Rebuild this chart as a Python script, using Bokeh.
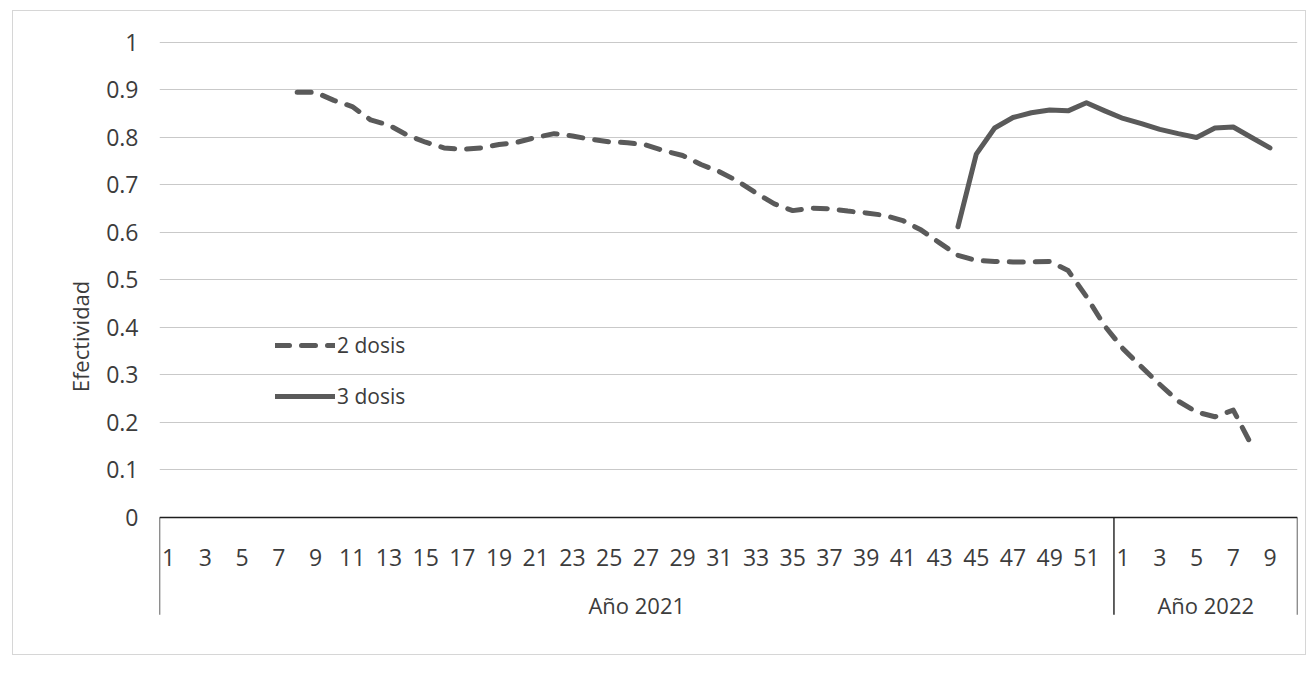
from bokeh.plotting import figure
from bokeh.models import (Range1d, FixedTicker, NumeralTickFormatter,
                          Legend, LegendItem, LinearAxis)
from bokeh.embed import file_html
from bokeh.resources import INLINE

# ---- data -------------------------------------------------------------
years = ["Año 2021", "Año 2022"]
weeks_2021 = list(range(1, 53))
weeks_2022 = list(range(1, 11))

# effectiveness after two doses, from week 8 of 2021 to week 8 of 2022
dos_dosis_first_week = 8
dos_dosis_2021 = [0.895, 0.895, 0.878, 0.865, 0.837, 0.826, 0.805, 0.790, 0.778, 0.775,
                  0.778, 0.785, 0.790, 0.800, 0.808, 0.803, 0.796, 0.791, 0.789, 0.784,
                  0.772, 0.762, 0.743, 0.728, 0.708, 0.683, 0.660, 0.646, 0.651, 0.650,
                  0.645, 0.641, 0.636, 0.625, 0.605, 0.578, 0.552, 0.541, 0.539, 0.538,
                  0.538, 0.539, 0.520, 0.465, 0.403]
dos_dosis_2022 = [0.355, 0.317, 0.280, 0.245, 0.222, 0.212, 0.226, 0.152]

# effectiveness after three doses, from week 44 of 2021 to week 9 of 2022
tres_dosis_first_week = 44
tres_dosis_2021 = [0.612, 0.765, 0.820, 0.842, 0.852, 0.858, 0.856, 0.873, 0.856]
tres_dosis_2022 = [0.840, 0.829, 0.817, 0.808, 0.800, 0.820, 0.822, 0.800, 0.778]

series_names = ["2 dosis", "3 dosis"]
y_ticks = [0, 0.1, 0.2, 0.3, 0.4, 0.5, 0.6, 0.7, 0.8, 0.9, 1]
y_title = "Efectividad"

# ---- one slot per week, years laid side by side -----------------------
year_weeks = [weeks_2021, weeks_2022]
year_start = [0, len(weeks_2021)]
n_slots = len(weeks_2021) + len(weeks_2022)


def slot(year_idx, week):
    # centre of the slot holding a given week of a given year
    return year_start[year_idx] + week - 0.5


def series_x(first_week, vals_2021, vals_2022):
    xs = [slot(0, first_week + i) for i in range(len(vals_2021))]
    xs += [slot(1, weeks_2022[i]) for i in range(len(vals_2022))]
    return xs


x2 = series_x(dos_dosis_first_week, dos_dosis_2021, dos_dosis_2022)
y2 = dos_dosis_2021 + dos_dosis_2022
x3 = series_x(tres_dosis_first_week, tres_dosis_2021, tres_dosis_2022)
y3 = tres_dosis_2021 + tres_dosis_2022

# odd weeks are labelled, as on the category axis
week_ticks, week_labels = [], {}
for yi, weeks in enumerate(year_weeks):
    for w in weeks:
        if w % 2 == 1:
            t = slot(yi, w)
            week_ticks.append(t)
            week_labels[t] = str(w)

year_ticks = [year_start[i] + len(year_weeks[i]) / 2 for i in range(len(years))]
year_labels = {year_ticks[i]: years[i] for i in range(len(years))}

FONT = "Open Sans"
TEXT = "#3c3c3c"
LINE = "#5a5a5a"
AXIS = "#1e1e1e"

p = figure(
    x_range=Range1d(0, n_slots),
    y_range=Range1d(-0.24, 1.002),
    frame_width=1138, frame_height=590,
    min_border_left=146, min_border_right=8,
    min_border_top=30, min_border_bottom=23,
    output_backend="svg", toolbar_location=None,
    x_axis_location=None,
)
p.styles = {"margin-left": "12px", "margin-top": "10px",
            "border": "1px solid #d6d6d6"}
p.outline_line_color = None
p.background_fill_color = "white"

# horizontal gridlines
p.xgrid.visible = False
p.ygrid.ticker = FixedTicker(ticks=y_ticks)
p.ygrid.grid_line_color = "#c9c9c9"
p.ygrid.grid_line_width = 1.2

# value axis
yax = p.yaxis[0]
yax.ticker = FixedTicker(ticks=y_ticks)
yax.formatter = NumeralTickFormatter(format="0.[0]")
yax.axis_line_color = None
yax.major_tick_line_color = None
yax.minor_tick_line_color = None
yax.major_label_standoff = 15
yax.major_label_text_font = FONT
yax.major_label_text_font_size = "23px"
yax.major_label_text_color = TEXT
yax.axis_label = y_title
yax.axis_label_text_font = FONT
yax.axis_label_text_font_size = "22px"
yax.axis_label_text_font_style = "normal"
yax.axis_label_text_color = TEXT
yax.axis_label_standoff = 8

# week axis sitting on y = 0
week_axis = LinearAxis(
    fixed_location=0,
    ticker=FixedTicker(ticks=week_ticks),
    major_label_overrides=week_labels,
    axis_line_color=AXIS, axis_line_width=1.6,
    major_tick_line_color=None, minor_tick_line_color=None,
    major_label_standoff=26,
    major_label_text_font=FONT, major_label_text_font_size="23px",
    major_label_text_color=TEXT,
)
p.add_layout(week_axis, "below")

# year axis underneath the weeks
year_axis = LinearAxis(
    fixed_location=0,
    ticker=FixedTicker(ticks=year_ticks),
    major_label_overrides=year_labels,
    axis_line_color=None,
    major_tick_line_color=None, minor_tick_line_color=None,
    major_label_standoff=67,
    major_label_text_font=FONT, major_label_text_font_size="22px",
    major_label_text_color=TEXT,
)
p.add_layout(year_axis, "below")

# boxes of the two-level category axis
bounds = [0, len(weeks_2021), n_slots]
p.segment(x0=bounds, y0=[0] * 3, x1=bounds, y1=[-0.205] * 3,
          line_color=AXIS, line_width=1.4)

r2 = p.line(x2, y2, line_color=LINE, line_width=5, line_dash="14 12",
            line_cap="round", line_join="round")
r3 = p.line(x3, y3, line_color=LINE, line_width=5,
            line_cap="round", line_join="round")

legend = Legend(
    items=[LegendItem(label=series_names[0], renderers=[r2]),
           LegendItem(label=series_names[1], renderers=[r3])],
    location=(116, 221), orientation="vertical",
    background_fill_alpha=0, border_line_color=None,
    glyph_width=60, glyph_height=22, label_standoff=2,
    spacing=23, padding=0, margin=0,
    label_text_font=FONT, label_text_font_size="21px", label_text_color=TEXT,
)
p.add_layout(legend)

with open("out.html", "w") as f:
    f.write(file_html(p, INLINE, "Efectividad"))
